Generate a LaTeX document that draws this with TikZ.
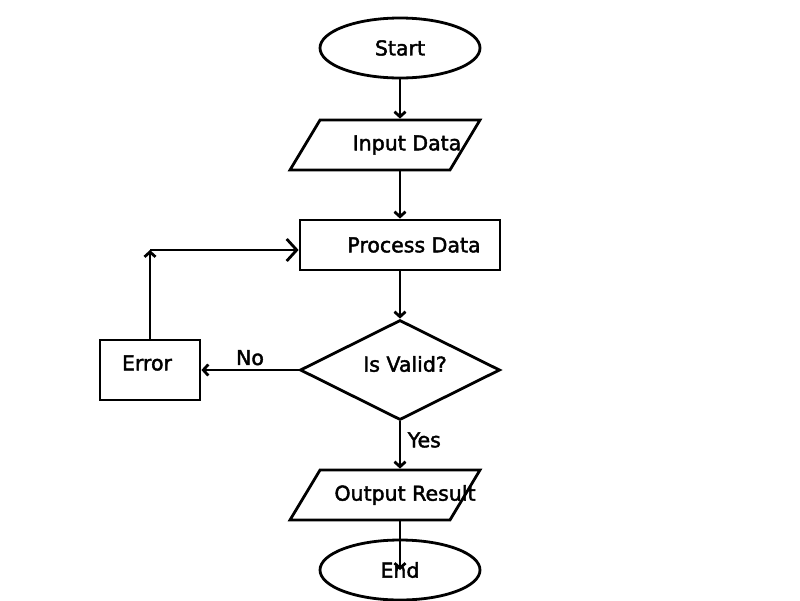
\documentclass[tikz,border=0pt]{standalone}
\usepackage{fontspec}
\setmainfont{DejaVu Sans}[FakeBold=2]
\usetikzlibrary{arrows.meta}
\usetikzlibrary{calc}
\usetikzlibrary{shapes.geometric, arrows}

\begin{document}
\begin{tikzpicture}[x=1pt,y=-1pt,
    every node/.style={font=\fontsize{20.5}{24}\selectfont},
    flowline/.style={line width=2.8pt},
    flowarrow/.style={flowline, -{Straight Barb[length=5pt,width=11pt]}},
    bigarrow/.style={flowline, -{Straight Barb[length=10pt,width=22pt]}},
    terminal/.style={ellipse, draw, flowline, minimum width=160, minimum height=60, inner sep=0pt},
    iobox/.style={trapezium, draw, flowline, trapezium left angle=59, trapezium right angle=121,
        trapezium stretches body, minimum width=190, minimum height=50, inner xsep=1pt, inner ysep=25pt},
    procbox/.style={rectangle, draw, flowline, minimum width=200, minimum height=50, inner sep=0pt},
    errbox/.style={rectangle, draw, flowline, minimum width=100, minimum height=60, inner sep=0pt},
    decision/.style={diamond, draw, flowline, aspect=2, minimum width=200, minimum height=100, inner sep=0pt}
    ]
        \newcommand{\flowmidx}{400}
        \newcommand{\flowiox}{385}
        \useasboundingbox (0,0) rectangle (800,600);
        \node[terminal] (start) at (\flowmidx,48) {Start};
        \node[iobox, label={[xshift=22pt]center:Input Data}] (input) at (\flowiox,145) {};
        \node[procbox, label={[xshift=14pt]center:Process Data}] (proc) at (\flowmidx,245) {};
        \node[decision, label={[xshift=5pt,yshift=6pt]center:Is Valid?}] (check) at (\flowmidx,370) {};
        \node[errbox, label={[xshift=-3pt,yshift=7pt]center:Error}] (err) at (150,370) {};
        \node[iobox, label={[xshift=20pt]center:Output Result}] (output) at (\flowiox,495) {};
        \node[terminal] (finish) at (\flowmidx,570) {End};
        \coordinate (bend) at (150,250);
        \draw[flowarrow] (start) -- (start |- input.north);
        \draw[flowarrow] (input.south -| proc) -- (proc);
        \draw[flowarrow] (proc) -- (check);
        \draw[flowarrow] (check) -- node[above] {No} (err);
        \draw[flowarrow] (check) -- node[right, xshift=3pt, yshift=5pt] {Yes} (check |- output.north);
        \draw[flowarrow] (output.south -| finish) -- (finish.center);
        \draw[flowarrow] (err) -- (bend);
        \draw[bigarrow] (bend) -- (bend -| proc.west);
    \end{tikzpicture}
\end{document}
